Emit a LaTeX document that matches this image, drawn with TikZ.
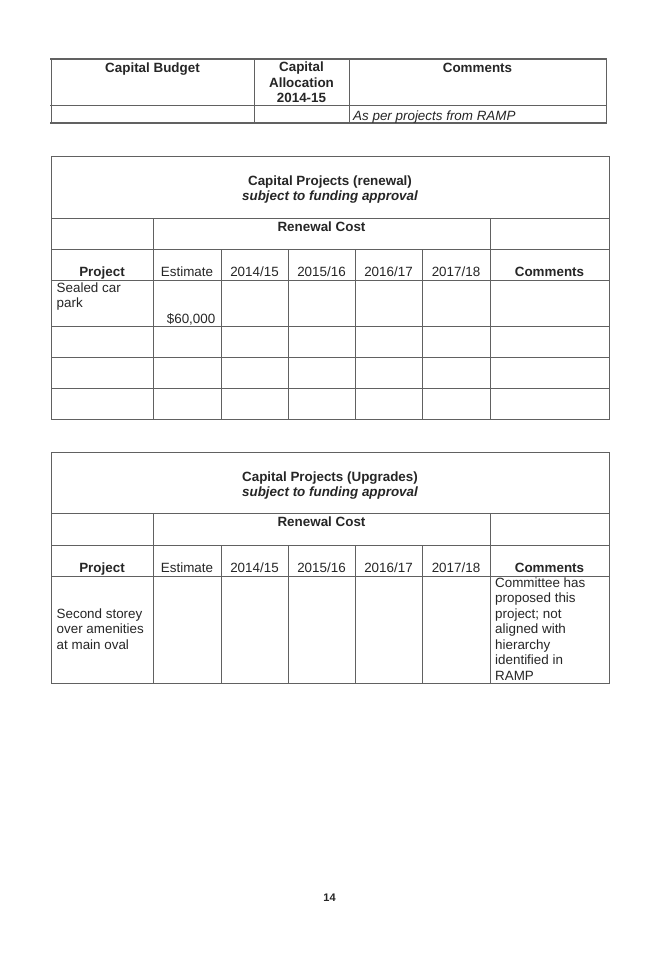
\documentclass[tikz,border=0pt]{standalone}
\usepackage{fontspec}
\setmainfont{Liberation Sans}
\begin{document}
\begin{tikzpicture}[x=1pt,y=-1pt,
  rule/.style={draw=black!62, line width=0.9pt},
  heavyrule/.style={draw=black!62, line width=1.8pt},
  txt/.style={inner sep=0pt, text=black!85, font=\fontsize{13.4}{15.5}\selectfont},
  bt/.style={inner sep=0pt, text=black!85, font=\fontsize{13.4}{15.5}\selectfont\bfseries},
  bit/.style={inner sep=0pt, text=black!85, font=\fontsize{13.4}{15.5}\selectfont\bfseries\itshape},
  it/.style={inner sep=0pt, text=black!85, font=\fontsize{13.4}{15.5}\selectfont\itshape},
  pg/.style={inner sep=0pt, text=black!85, font=\fontsize{11}{12}\selectfont\bfseries}]
\useasboundingbox[fill=white] (0,0) rectangle (660,958);

% ---------- Table 1 ----------
\foreach \x in {51,254,349,606} \draw[rule] (\x,59) -- (\x,123);
\foreach \y in {59,105.5,123} \draw[heavyrule] (50,\y) -- (607,\y);
\node[bt, anchor=base] (t1a) at (152.5,72) {Capital Budget};
\node[bt, anchor=base] (t1b1) at (301.5,71.5) {Capital};
\node[bt, anchor=base] (t1b2) at (301.5,87) {Allocation};
\node[bt, anchor=base] (t1b3) at (301.5,102) {2014-15};
\node[bt, anchor=base] (t1c) at (477.5,72) {Comments};
\node[it, anchor=base west] (t1d) at (353,120) {As per projects from RAMP};

% ---------- Table 2 ----------
\draw[rule] (51,156) rectangle (609,419);
\foreach \y in {218,249,280,326,357,388} \draw[rule] (51,\y) -- (609,\y);
\foreach \x in {153,490} \draw[rule] (\x,218) -- (\x,419);
\foreach \x in {221,288,355,422} \draw[rule] (\x,249) -- (\x,419);
\node[bt, anchor=base] (t2t1) at (330,185) {Capital Projects (renewal)};
\node[bit, anchor=base] (t2t2) at (330,200) {subject to funding approval};
\node[bt, anchor=base] (t2rc) at (321.5,231) {Renewal Cost};
\node[bt, anchor=base] (t2h1) at (102,276.5) {Project};
\node[txt, anchor=base] (t2h2) at (187,276.5) {Estimate};
\node[txt, anchor=base] (t2h3) at (254.5,276.5) {2014/15};
\node[txt, anchor=base] (t2h4) at (321.5,276.5) {2015/16};
\node[txt, anchor=base] (t2h5) at (388.5,276.5) {2016/17};
\node[txt, anchor=base] (t2h6) at (456,276.5) {2017/18};
\node[bt, anchor=base] (t2h7) at (549.5,276.5) {Comments};
\node[txt, anchor=base west] (t2p1) at (56.5,292) {Sealed car};
\node[txt, anchor=base west] (t2p2) at (56.5,307.5) {park};
\node[txt, anchor=base east] (t2e) at (215.5,323) {\$60,000};

% ---------- Table 3 ----------
\draw[rule] (51,452) rectangle (609,683);
\foreach \y in {513,545,576} \draw[rule] (51,\y) -- (609,\y);
\foreach \x in {153,490} \draw[rule] (\x,513) -- (\x,683);
\foreach \x in {221,288,355,422} \draw[rule] (\x,545) -- (\x,683);
\node[bt, anchor=base] (t3t1) at (330,481) {Capital Projects (Upgrades)};
\node[bit, anchor=base] (t3t2) at (330,496.5) {subject to funding approval};
\node[bt, anchor=base] (t3rc) at (321.5,526) {Renewal Cost};
\node[bt, anchor=base] (t3h1) at (102,572) {Project};
\node[txt, anchor=base] (t3h2) at (187,572) {Estimate};
\node[txt, anchor=base] (t3h3) at (254.5,572) {2014/15};
\node[txt, anchor=base] (t3h4) at (321.5,572) {2015/16};
\node[txt, anchor=base] (t3h5) at (388.5,572) {2016/17};
\node[txt, anchor=base] (t3h6) at (456,572) {2017/18};
\node[bt, anchor=base] (t3h7) at (549.5,572) {Comments};
\node[txt, anchor=base west] (t3p1) at (56.5,618) {Second storey};
\node[txt, anchor=base west] (t3p2) at (56.5,633.5) {over amenities};
\node[txt, anchor=base west] (t3p3) at (56.5,649) {at main oval};
\node[txt, anchor=base west] (t3c1) at (495,587) {Committee has};
\node[txt, anchor=base west] (t3c2) at (495,602.5) {proposed this};
\node[txt, anchor=base west] (t3c3) at (495,618) {project; not};
\node[txt, anchor=base west] (t3c4) at (495,633.5) {aligned with};
\node[txt, anchor=base west] (t3c5) at (495,649) {hierarchy};
\node[txt, anchor=base west] (t3c6) at (495,664.5) {identified in};
\node[txt, anchor=base west] (t3c7) at (495,680) {RAMP};

% ---------- page number ----------
\node[pg, anchor=base] (pgno) at (329.5,901) {14};
\end{tikzpicture}
\end{document}
